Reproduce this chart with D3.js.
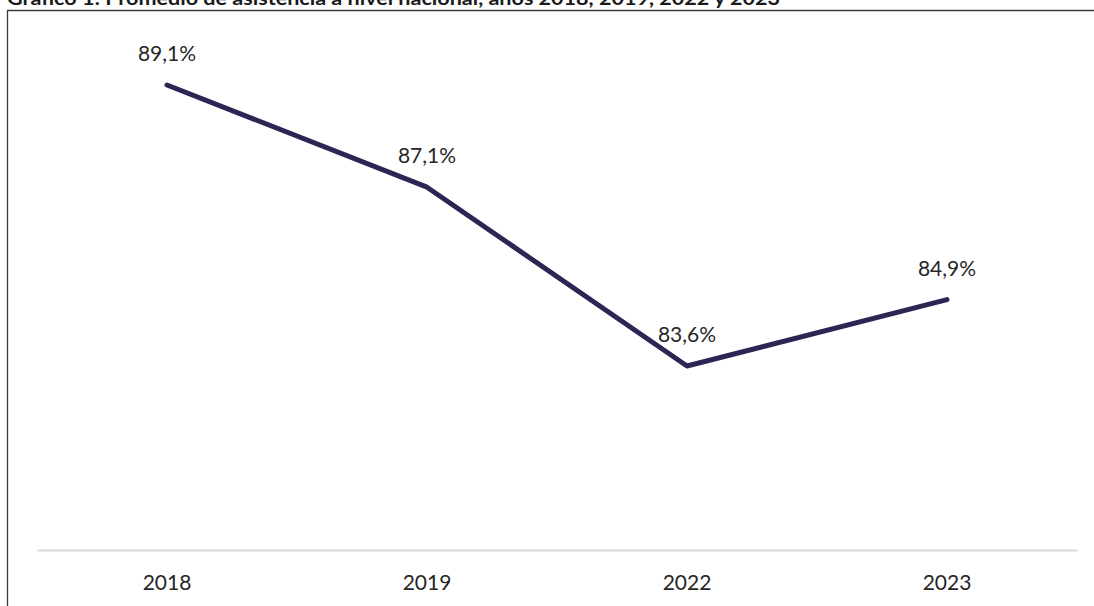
<!DOCTYPE html>
<html>
<head>
<meta charset="utf-8">
<script src="https://cdn.jsdelivr.net/npm/d3@7"></script>
<style>
  html, body { margin: 0; padding: 0; background: #fff; }
  svg { display: block; }
</style>
</head>
<body>
<svg id="chart" width="1094" height="606"></svg>
<script>
const categories = ["2018", "2019", "2022", "2023"];
const values = [89.1, 87.1, 83.6, 84.9];
const valueLabels = ["89,1%", "87,1%", "83,6%", "84,9%"];
const titleText = "Gráfico 1: Promedio de asistencia a nivel nacional, años 2018, 2019, 2022 y 2023";

const svg = d3.select("#chart");
const W = 1094, H = 606;

// title (partially cut at top, as in the reference)
svg.append("text")
  .attr("x", 7).attr("y", 4.5)
  .attr("font-family", "Lato, sans-serif")
  .attr("font-weight", 700)
  .attr("font-size", 19)
  .attr("fill", "#1a1a1a")
  .attr("textLength", 773)
  .attr("lengthAdjust", "spacingAndGlyphs")
  .text(titleText);

// frame
svg.append("path")
  .attr("d", `M7.5,${H} V10.5 H${W}`)
  .attr("fill", "none")
  .attr("stroke", "#3a3a3a")
  .attr("stroke-width", 1.3);

const x = d3.scaleBand().domain(categories).range([37, 1077]);
const y = d3.scaleLinear().domain([80, 90]).range([550, 39]);

// x axis
const xAxis = svg.append("g")
  .attr("transform", "translate(0,550)")
  .call(d3.axisBottom(x).tickSize(0).tickPadding(25));
xAxis.select(".domain").attr("stroke", "#d9d9d9").attr("stroke-width", 2);
xAxis.selectAll("text")
  .attr("font-family", "Lato, sans-serif")
  .attr("font-weight", 400)
  .attr("font-size", 21)
  .attr("fill", "#262626");

const cx = d => x(d) + x.bandwidth() / 2;
const data = categories.map((c, i) => ({c, v: values[i], l: valueLabels[i]}));

svg.append("path")
  .datum(data)
  .attr("fill", "none")
  .attr("stroke", "#2d2553")
  .attr("stroke-width", 5)
  .attr("stroke-linecap", "round")
  .attr("stroke-linejoin", "round")
  .attr("d", d3.line().x(d => cx(d.c)).y(d => y(d.v)));

svg.selectAll(".lbl")
  .data(data)
  .enter().append("text")
  .attr("x", d => cx(d.c))
  .attr("y", d => y(d.v) - 24)
  .attr("text-anchor", "middle")
  .attr("font-family", "Lato, sans-serif")
  .attr("font-weight", 400)
  .attr("font-size", 21)
  .attr("fill", "#262626")
  .text(d => d.l);
</script>
</body>
</html>
